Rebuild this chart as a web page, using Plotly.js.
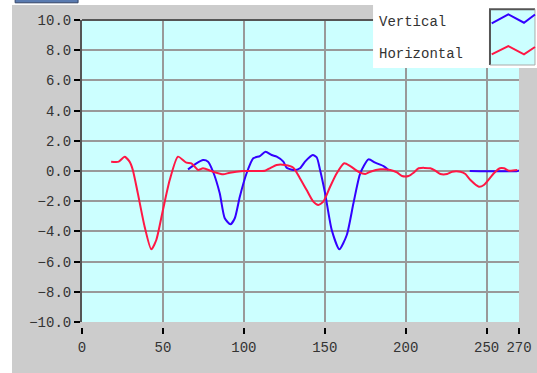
<!DOCTYPE html>
<html>
<head>
<meta charset="utf-8">
<script src="https://cdn.plot.ly/plotly-3.0.1.min.js"></script>
<style>html,body{margin:0;padding:0;background:#fff;}</style>
</head>
<body>
<div id="chart" style="width:537px;height:373px;"></div>
<script>
// Horizontal series (red)
var horizX = [18,22.7,26.3,29.4,31.4,34.5,38.7,42.8,45.9,50,54.2,59.3,64.5,67.6,71.7,74.8,81,87.2,91.3,99.6,113,116,120.3,125.4,130.6,134.7,138.8,142.9,146,149.1,153.3,157.4,162,165.7,170.8,175,178.1,184.3,190.5,194.6,197.7,201.8,204.9,208,215.2,218.3,221.4,225.6,228.7,233.8,236.9,240,245.2,248.3,254.5,258.2,260.7,263.8,269];
var horizY = [0.62,0.62,0.95,0.62,0.07,-1.48,-3.69,-5.19,-4.57,-2.58,-0.6,0.95,0.55,0.51,0.07,0.18,-0.05,-0.22,-0.11,0,0.02,0.18,0.4,0.4,0.22,-0.49,-1.26,-2.03,-2.25,-2.03,-1.04,-0.15,0.51,0.33,-0.05,-0.2,-0.05,0.11,0.07,-0.09,-0.33,-0.33,-0.11,0.18,0.18,0.02,-0.2,-0.2,-0.05,-0.05,-0.2,-0.6,-1.04,-0.93,-0.15,0.18,0.18,0.02,0.07];
// Vertical series (blue), null = gap
var vertX = [65.5,70.7,74.8,77.9,81,85.1,88.2,91.7,94.4,97.5,101.7,105.8,109.9,113.4,117.2,120.3,124.4,126.4,130.6,134.7,137.8,142.6,145,147.1,150.2,154.3,159,163.6,167.7,171.9,177,181.2,186.3,189.4,null,239.6,269,270];
var vertY = [0.11,0.51,0.73,0.62,-0.05,-1.48,-3.13,-3.53,-3.13,-1.7,-0.15,0.84,0.99,1.28,1.06,0.95,0.62,0.22,0.07,0.18,0.62,1.06,0.91,0.07,-1.48,-3.91,-5.19,-4.24,-2.14,-0.15,0.77,0.55,0.33,0.07,null,0,0,0.05];

var xTickVals = [0,50,100,150,200,250,270];
var xGridVals = [50,100,150,200,250];
var yTickVals = [-10,-8,-6,-4,-2,0,2,4,6,8,10];
var yGridVals = [-8,-6,-4,-2,0,2,4,6,8];
var seriesNames = ['Vertical','Horizontal'];
var seriesColors = ['#3300ff','#ff1744'];

var mono = 'Liberation Mono, Courier New, monospace';

var traces = [
  {x: vertX, y: vertY, type:'scatter', mode:'lines', name:seriesNames[0],
   line:{color:seriesColors[0], width:2, shape:'spline', smoothing:0.6}, connectgaps:false, hoverinfo:'skip'},
  {x: horizX, y: horizY, type:'scatter', mode:'lines', name:seriesNames[1],
   line:{color:seriesColors[1], width:2, shape:'spline', smoothing:0.6}, hoverinfo:'skip'},
  {x: [], y: [], xaxis:'x2', yaxis:'y', type:'scatter', hoverinfo:'skip', showlegend:false},
  {x: [], y: [], xaxis:'x', yaxis:'y2', type:'scatter', hoverinfo:'skip', showlegend:false}
];

var layout = {
  width:537, height:373,
  margin:{l:82, r:18, t:20, b:46, pad:0},
  paper_bgcolor:'#ffffff',
  plot_bgcolor:'rgba(0,0,0,0)',
  showlegend:false,
  font:{family:mono, size:14, color:'#333'},
  xaxis:{range:[0,270], tickvals:xGridVals, showticklabels:false, ticks:'',
         showgrid:true, gridcolor:'#999999', gridwidth:2, zeroline:false, showline:false, fixedrange:true},
  xaxis2:{overlaying:'x', anchor:'free', position:0, range:[0,270], tickvals:xTickVals,
          ticks:'outside', ticklen:6, tickwidth:2, tickcolor:'#000', ticklabelstandoff:1,
          showgrid:false, zeroline:false, showline:false, tickfont:{family:mono, size:14, color:'#333'}},
  yaxis:{domain:[0.0163,1], range:[-10,10], tickvals:yTickVals, tickformat:'.1f',
         ticks:'outside', ticklen:6, tickwidth:2, tickcolor:'#000',
         showgrid:false, zeroline:false, showline:true, linecolor:'#555', linewidth:2,
         tickfont:{family:mono, size:14, color:'#333'}},
  yaxis2:{overlaying:'y', range:[-10,10], tickvals:yGridVals, showticklabels:false, ticks:'',
          showgrid:true, gridcolor:'#999999', gridwidth:2, zeroline:false, showline:false},
  shapes:[
    {type:'rect', xref:'paper', yref:'paper', x0:-0.1602, x1:1.05, y0:-0.16, y1:1.0489,
     fillcolor:'#cccccc', line:{width:0}, layer:'below'},
    {type:'rect', xref:'x', yref:'y', x0:0, x1:270, y0:-10, y1:10,
     fillcolor:'#ccffff', line:{width:0}, layer:'below'},
    {type:'rect', xref:'paper', yref:'paper', x0:-0.153, x1:-0.009, y0:1.056, y1:1.075,
     fillcolor:'#5a7bb0', line:{color:'#334466', width:1}, layer:'below'},
    {type:'line', xref:'paper', yref:'paper', x0:0, x1:1, y0:1, y1:1,
     line:{color:'#555', width:2}, layer:'above'},
    // legend box
    {type:'rect', xref:'paper', yref:'paper', x0:0.666, x1:1.05, y0:0.8436, y1:1.0489,
     fillcolor:'#ffffff', line:{width:0}, layer:'above'},
    {type:'rect', xref:'paper', yref:'paper', x0:0.9336, x1:1.0366, y0:0.8534, y1:1.0349,
     fillcolor:'#ccffff', line:{width:0}, layer:'above'},
    {type:'path', xref:'paper', yref:'paper', path:'M0.9336,0.8534 L0.9336,1.0349 L1.0366,1.0349',
     line:{color:'#555', width:2}, layer:'above'},
    {type:'path', xref:'paper', yref:'paper', path:'M1.0366,1.0349 L1.0366,0.8534 L0.9336,0.8534',
     line:{color:'#aaaaaa', width:1}, layer:'above'},
    {type:'path', xref:'paper', yref:'paper', path:'M0.9375,0.9893 L0.9755,1.0186 L1.0114,0.9912 L1.0366,1.0179',
     line:{color:seriesColors[0], width:2}, layer:'above'},
    {type:'path', xref:'paper', yref:'paper', path:'M0.9375,0.8883 L0.9755,0.9153 L1.0114,0.8883 L1.0366,0.9121',
     line:{color:seriesColors[1], width:2}, layer:'above'}
  ],
  annotations:[
    {xref:'paper', yref:'paper', x:0.675, y:0.9935, xanchor:'left', yanchor:'middle', showarrow:false,
     text:seriesNames[0], font:{family:mono, size:14, color:'#333'}},
    {xref:'paper', yref:'paper', x:0.675, y:0.889, xanchor:'left', yanchor:'middle', showarrow:false,
     text:seriesNames[1], font:{family:mono, size:14, color:'#333'}}
  ]
};

Plotly.newPlot('chart', traces, layout, {staticPlot:true, displayModeBar:false});
</script>
</body>
</html>
